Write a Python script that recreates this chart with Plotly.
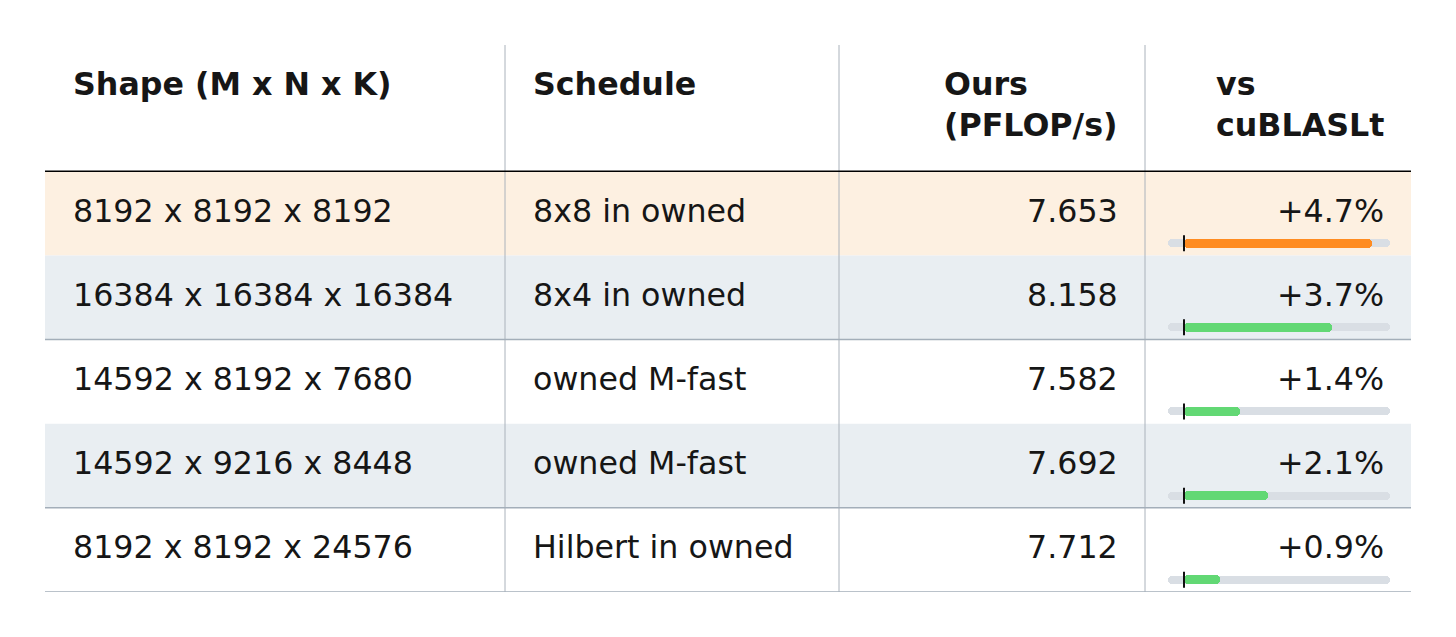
"""Benchmark table: our GEMM throughput vs cuBLASLt, with inline delta bars."""
import plotly.graph_objects as go

# ---- data ---------------------------------------------------------------
HEADERS = ["Shape (M x N x K)", "Schedule", "Ours<br>(PFLOP/s)", "vs<br>cuBLASLt"]
SHAPES = [
    "8192 x 8192 x 8192",
    "16384 x 16384 x 16384",
    "14592 x 8192 x 7680",
    "14592 x 9216 x 8448",
    "8192 x 8192 x 24576",
]
SCHEDULES = ["8x8 in owned", "8x4 in owned", "owned M-fast", "owned M-fast", "Hilbert in owned"]
PFLOPS = [7.653, 8.158, 7.582, 7.692, 7.712]
VS_CUBLAS = [4.7, 3.7, 1.4, 2.1, 0.9]
HIGHLIGHT = 0          # best row, drawn in orange
BAR_RANGE = [-0.4, 5.15]

# ---- style --------------------------------------------------------------
FONT = "DejaVu Sans"
FS = 31.7
TXT = "#161616"
ROW_BG = ["#fdf0e1", "#e9eef2", "#ffffff", "#e9eef2", "#ffffff"]
TRACK = "#d9dee4"
ORANGE = "#ff8c21"
GREEN = "#62d874"
VLINE = "#aab2bb"
HLINE = "#a3aeb9"

W, H = 1456, 637
BODY = 8                       # page body margin pushes the svg by this much
ML, MR, MT, MB = 45 - BODY, 45 + BODY, 45 - BODY, 45 + BODY
TABLE_W = W - ML - MR
COL_EDGES = [0, 460, 794, 1100, TABLE_W]      # table px
HEADER_ROWS = 1.5
ROW_PX = (H - MT - MB) / (len(SHAPES) + HEADER_ROWS)
Y_TOP = -0.5 - HEADER_ROWS
Y_BOT = len(SHAPES) - 0.5
BAR_OFF = 0.355
BAR_DOM = [(1168 - 45) / TABLE_W, (1390 - 45) / TABLE_W]


def y_of(px):
    """Convert a screen pixel row into row-index units."""
    return Y_TOP + (px - 45) / ROW_PX


rows = list(range(len(SHAPES)))
bar_y = [r + BAR_OFF for r in rows]
span = BAR_RANGE[1] - BAR_RANGE[0]
fig = go.Figure()

# background track: drawn once from each end so both ends come out rounded
for base, length in ((BAR_RANGE[1], -span), (BAR_RANGE[0], span)):
    fig.add_trace(go.Bar(
        x=[length] * len(rows), y=bar_y, base=[base] * len(rows),
        orientation="h", width=0.095, xaxis="x2", yaxis="y",
        marker=dict(color=TRACK, cornerradius=4, line=dict(width=0)),
        hoverinfo="skip", showlegend=False,
    ))

fig.add_trace(go.Bar(
    x=VS_CUBLAS, y=bar_y, base=[0] * len(rows),
    orientation="h", width=0.11, xaxis="x2", yaxis="y",
    marker=dict(color=[ORANGE if r == HIGHLIGHT else GREEN for r in rows],
                cornerradius=5, line=dict(width=0)),
    hovertemplate="%{x:+.1f}%<extra></extra>", showlegend=False,
))

# zero reference ticks
zx, zy = [], []
for y in bar_y:
    zx += [0, 0, None]
    zy += [y - 0.095, y + 0.095, None]
fig.add_trace(go.Scatter(x=zx, y=zy, mode="lines", xaxis="x2", yaxis="y",
                         line=dict(color="#111111", width=2),
                         hoverinfo="skip", showlegend=False))

shapes = []
for r in rows:
    shapes.append(dict(type="rect", xref="x", yref="y", x0=0, x1=TABLE_W,
                       y0=r - 0.5, y1=r + 0.5, fillcolor=ROW_BG[r],
                       line=dict(width=0), layer="below"))
for xe in COL_EDGES[1:-1]:
    shapes.append(dict(type="line", xref="x", yref="y", x0=xe, x1=xe,
                       y0=Y_TOP, y1=Y_BOT, line=dict(color=VLINE, width=1)))
shapes.append(dict(type="line", xref="x", yref="y", x0=0, x1=TABLE_W,
                   y0=-0.5, y1=-0.5, line=dict(color="#000000", width=1.5)))
for yb in (1.5, 3.5, 4.5):
    shapes.append(dict(type="line", xref="x", yref="y", x0=0, x1=TABLE_W,
                       y0=yb, y1=yb, line=dict(color=HLINE, width=1.5)))

# text cells
ann = []
pad_l, pad_r = 26, 25
col_x = [COL_EDGES[0] + pad_l, COL_EDGES[1] + pad_l,
         COL_EDGES[3] - pad_r, COL_EDGES[4] - pad_r]
col_anchor = ["left", "left", "right", "right"]
for c, head in enumerate(HEADERS):
    ann.append(dict(x=col_x[c], y=y_of(64), xref="x", yref="y", text=f"<b>{head}</b>",
                    xanchor=col_anchor[c], yanchor="top", align="left",
                    showarrow=False, font=dict(family=FONT, size=FS, color=TXT)))

cells = [SHAPES, SCHEDULES, [f"{v:.3f}" for v in PFLOPS], [f"{v:+.1f}%" for v in VS_CUBLAS]]
for c, col in enumerate(cells):
    for r, val in enumerate(col):
        ann.append(dict(x=col_x[c], y=r - 0.03, xref="x", yref="y", text=val,
                        xanchor=col_anchor[c], yanchor="middle", showarrow=False,
                        font=dict(family=FONT, size=FS, color=TXT)))

fig.update_layout(
    width=W, height=H,
    margin=dict(l=ML, r=MR, t=MT, b=MB),
    paper_bgcolor="#ffffff", plot_bgcolor="rgba(0,0,0,0)",
    barmode="overlay", bargap=0,
    shapes=shapes, annotations=ann,
    xaxis=dict(range=[0, TABLE_W], domain=[0, 1], visible=False, fixedrange=True),
    xaxis2=dict(range=BAR_RANGE, domain=BAR_DOM, anchor="y",
                visible=False, fixedrange=True),
    yaxis=dict(range=[Y_BOT, Y_TOP], visible=False, fixedrange=True),
    font=dict(family=FONT, color=TXT),
)

fig.write_html("out.html", config={"displayModeBar": False})
